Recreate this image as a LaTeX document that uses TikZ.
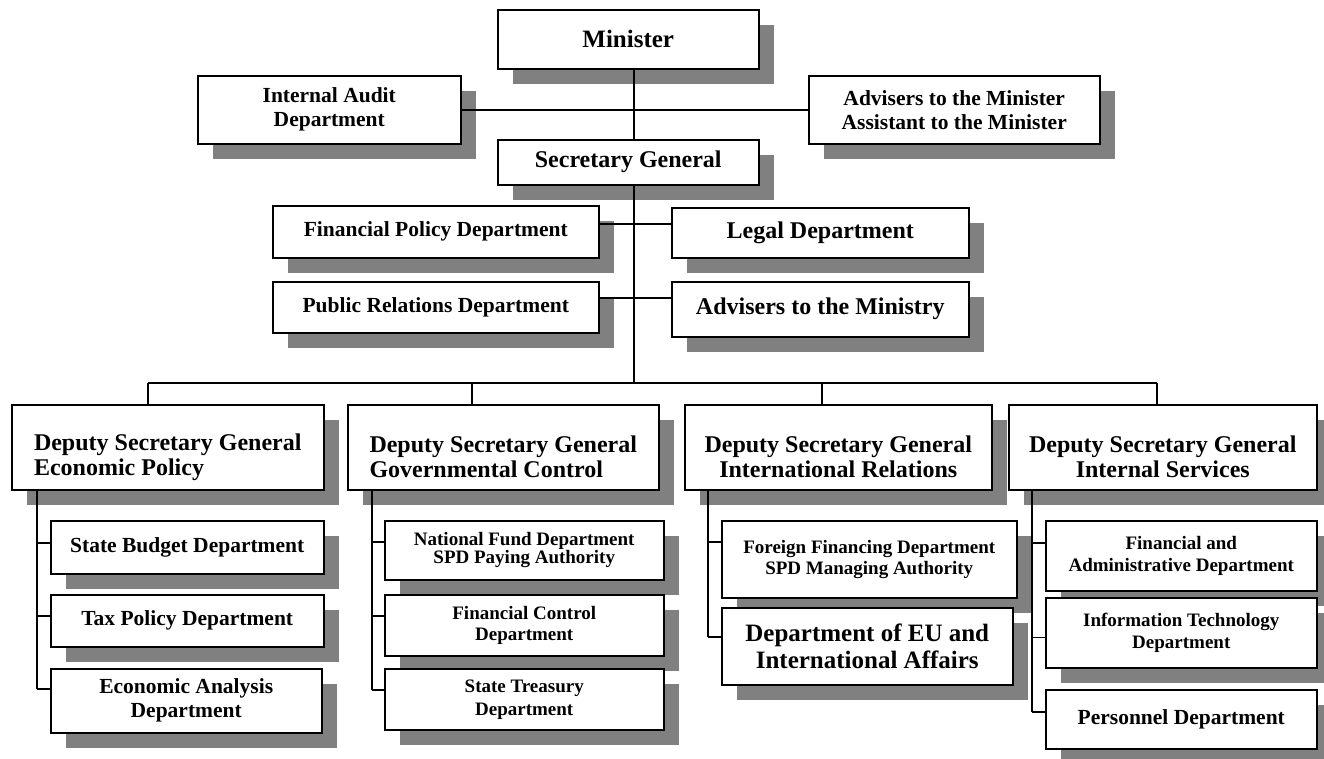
\documentclass[tikz,border=0pt]{standalone}
\usepackage{fontspec}
\setmainfont{Liberation Serif}
\usetikzlibrary{shadows}

\begin{document}
\begin{tikzpicture}[x=1pt,y=-1pt,
  box/.style={draw=black, line width=1.5pt, fill=white, anchor=north west,
    inner sep=0pt, align=center,
    drop shadow={shadow xshift=15pt, shadow yshift=-15pt, fill=black!50, opacity=1}},
  wh/.style 2 args={minimum width=#1pt, minimum height=#2pt},
  link/.style={line width=1.5pt},
  huge/.style={font=\fontsize{25}{26}\selectfont\bfseries},
  big/.style={font=\fontsize{24}{25}\selectfont\bfseries},
  mid/.style={font=\fontsize{21.5}{24}\selectfont\bfseries},
  sml/.style={font=\fontsize{19}{21}\selectfont\bfseries},
]
\useasboundingbox (0,0) rectangle (1324,758);
\fill[white] (0,0) rectangle (1324,758);

% top of the hierarchy
\node[box, huge, wh={261}{59}] (min) at (497,9) {Minister};
\node[box, mid, wh={263}{68}] (audit) at (197,75) {Internal Audit\\Department};
\node[box, mid, wh={291}{68}] (advmin) at (808,75) {Advisers to the Minister\\Assistant to the Minister};
\node[box, big, wh={261}{45}] (secgen) at (497,139) {Secretary General};

% units attached to the Secretary General
\node[box, mid, wh={326}{52}] (finpol) at (272,205) {Financial Policy Department};
\node[box, big, wh={297}{50}] (legal) at (671,207) {Legal Department};
\node[box, mid, wh={326}{51}] (pubrel) at (272,281) {Public Relations Department};
\node[box, big, wh={297}{55}] (advmy) at (671,281) {Advisers to the Ministry};

% deputy secretaries general
\node[box, big, wh={312}{85}, align=left] (dsgA) at (11,404) {\rule{0pt}{36pt}Deputy Secretary General\\Economic Policy};
\node[box, big, wh={311}{85}, align=left] (dsgB) at (347,404) {\rule{0pt}{36pt}Deputy Secretary General\\Governmental Control};
\node[box, big, wh={307}{85}] (dsgC) at (684,404) {\rule{0pt}{36pt}Deputy Secretary General\\International Relations};
\node[box, big, wh={308}{85}] (dsgD) at (1008,404) {\rule{0pt}{36pt}Deputy Secretary General\\Internal Services};

% economic policy
\node[box, mid, wh={273}{53}] (budget) at (50,520) {State Budget Department};
\node[box, mid, wh={273}{52}] (tax) at (50,594) {Tax Policy Department};
\node[box, mid, wh={271}{64}] (econ) at (50,668) {Economic Analysis\\Department};

% governmental control
\node[box, sml, wh={279}{59}, font=\fontsize{19}{18}\selectfont\bfseries] (natfund) at (384,520) {National Fund Department\\SPD Paying Authority};
\node[box, sml, wh={279}{61}] (finctl) at (384,594) {Financial Control\\Department};
\node[box, sml, wh={279}{61}, font=\fontsize{19}{23}\selectfont\bfseries] (treas) at (384,668) {State Treasury\\Department};

% international relations
\node[box, sml, wh={295}{77}] (forfin) at (721,520) {Foreign Financing Department\\SPD Managing Authority};
\node[box, wh={291}{77}, font=\fontsize{25}{27}\selectfont\bfseries] (euaff) at (721,607) {Department of EU and\\International Affairs};

% internal services
\node[box, sml, wh={271}{70}, font=\fontsize{19}{22}\selectfont\bfseries] (finadm) at (1045,520) {Financial and\\Administrative Department};
\node[box, sml, wh={271}{70}, font=\fontsize{19}{22}\selectfont\bfseries] (infotech) at (1045,597) {Information Technology\\Department};
\node[box, mid, wh={271}{59}] (personnel) at (1045,689) {Personnel Department};

% reference lines for the connectors
\coordinate (spine) at (634,0);
\coordinate (bus) at (0,383);
\coordinate (rowA) at (0,224);
\coordinate (rowB) at (0,298);
\coordinate (dA) at (148,383);
\coordinate (dB) at (472,383);
\coordinate (dC) at (822,383);
\coordinate (dD) at (1157,383);
\coordinate (cA) at (37,0);
\coordinate (cB) at (372,0);
\coordinate (cC) at (708,0);
\coordinate (cD) at (1032,0);

\coordinate (bBudget) at ([yshift=4.5pt]budget.west);
\coordinate (bTax) at ([yshift=5pt]tax.west);
\coordinate (bEcon) at ([yshift=12pt]econ.west);
\coordinate (bNat) at ([yshift=8.5pt]natfund.west);
\coordinate (bCtl) at ([yshift=9.5pt]finctl.west);
\coordinate (bTreas) at ([yshift=9.5pt]treas.west);
\coordinate (bFor) at ([yshift=17.5pt]forfin.west);
\coordinate (bEU) at ([yshift=9.5pt]euaff.west);
\coordinate (bAdm) at ([yshift=13pt]finadm.west);
\coordinate (bIT) at ([yshift=-4.7pt]infotech.west);
\coordinate (bPers) at ([yshift=7.5pt]personnel.west);

% main line of command
\draw[link] (min.south -| spine) -- (secgen.north -| spine);
\draw[link] (audit.east) -- (advmin.west);
\draw[link] (secgen.south -| spine) -- (spine |- bus);
\draw[link] (finpol.east |- rowA) -- (legal.west |- rowA);
\draw[link] (pubrel.east |- rowB) -- (advmy.west |- rowB);

% distribution bar to the deputies
\draw[link] (dA) -- (dD);
\draw[link] (dA) -- (dA |- dsgA.north);
\draw[link] (dB) -- (dB |- dsgB.north);
\draw[link] (dC) -- (dC |- dsgC.north);
\draw[link] (dD) -- (dD |- dsgD.north);

% departments under each deputy
\draw[link] (dsgA.south -| cA) -- (cA |- bEcon);
\draw[link] (cA |- bBudget) -- (bBudget);
\draw[link] (cA |- bTax) -- (bTax);
\draw[link] (cA |- bEcon) -- (bEcon);

\draw[link] (dsgB.south -| cB) -- (cB |- bTreas);
\draw[link] (cB |- bNat) -- (bNat);
\draw[link] (cB |- bCtl) -- (bCtl);
\draw[link] (cB |- bTreas) -- (bTreas);

\draw[link] (dsgC.south -| cC) -- (cC |- bEU);
\draw[link] (cC |- bFor) -- (bFor);
\draw[link] (cC |- bEU) -- (bEU);

\draw[link] (dsgD.south -| cD) -- (cD |- bPers);
\draw[link] (cD |- bAdm) -- (bAdm);
\draw[link] (cD |- bIT) -- (bIT);
\draw[link] (cD |- bPers) -- (bPers);
\end{tikzpicture}
\end{document}
